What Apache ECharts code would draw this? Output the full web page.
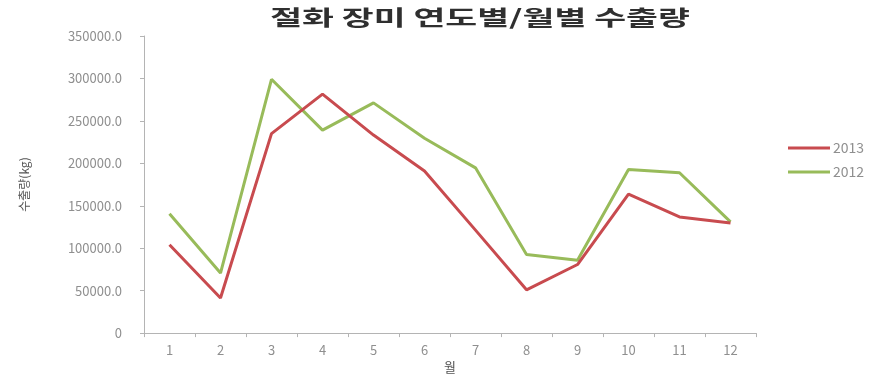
<!DOCTYPE html>
<html>
<head>
<meta charset="utf-8">
<script src="https://cdn.jsdelivr.net/npm/echarts@6/dist/echarts.min.js"></script>
<style>
  html, body { margin: 0; padding: 0; background: #ffffff; }
  #chart { width: 887px; height: 379px; }
</style>
</head>
<body>
<div id="chart"></div>
<script>
// Monthly export volume of cut roses, by year (kg)
const chartTitle = '절화 장미 연도별/월별 수출량';
const months = ['1', '2', '3', '4', '5', '6', '7', '8', '9', '10', '11', '12'];
const seriesNames = ['2013', '2012'];
const exports2013 = [104000, 41400, 235000, 281600, 233300, 190900, 121300, 51000, 80800, 163800, 136800, 129800];
const exports2012 = [140600, 70700, 299000, 239100, 271200, 229500, 194700, 92700, 85800, 192700, 188900, 131000];
const yTicks = { min: 0, max: 350000, step: 50000 };

const chart = echarts.init(document.getElementById('chart'), null, { renderer: 'canvas' });

const axisGrey = '#b4b4b4';
const labelGrey = '#8f8f8f';
const font = '"Noto Sans CJK KR", "Liberation Sans", sans-serif';

chart.setOption({
  backgroundColor: '#ffffff',
  animation: false,
  // wide, horizontally stretched heading
  graphic: [{
    type: 'text',
    x: 480,
    y: 7,
    scaleX: 1.65,
    style: {
      text: chartTitle,
      textAlign: 'center',
      textVerticalAlign: 'top',
      font: 'bold 21px ' + font,
      fill: '#2f2f2f'
    }
  }],
  legend: {
    orient: 'vertical',
    left: 783,
    top: 136,
    itemWidth: 42,
    itemHeight: 3,
    itemGap: 10,
    icon: 'rect',
    data: seriesNames,
    textStyle: { fontFamily: font, fontSize: 14, color: labelGrey, padding: [0, 0, 0, -2] }
  },
  grid: { left: 144, right: 131, top: 36, bottom: 41, containLabel: false },
  xAxis: {
    type: 'category',
    data: months,
    boundaryGap: true,
    name: '월',
    nameLocation: 'middle',
    nameGap: 26,
    nameTextStyle: { fontFamily: font, fontSize: 13, color: '#555' },
    axisLine: { lineStyle: { color: axisGrey, width: 1 } },
    axisTick: { show: true, alignWithLabel: false, length: 4, lineStyle: { color: axisGrey } },
    axisLabel: { fontFamily: font, fontSize: 13, color: labelGrey, margin: 10 },
    splitLine: { show: false }
  },
  yAxis: {
    type: 'value',
    min: yTicks.min,
    max: yTicks.max,
    interval: yTicks.step,
    name: '수출량(kg)',
    nameLocation: 'middle',
    nameRotate: 90,
    nameGap: 114,
    nameTextStyle: { fontFamily: font, fontSize: 12, color: '#555' },
    axisLine: { show: true, lineStyle: { color: axisGrey, width: 1 } },
    axisTick: { show: true, length: 4, lineStyle: { color: axisGrey } },
    axisLabel: {
      fontFamily: font, fontSize: 13, color: labelGrey, margin: 22,
      formatter: v => (v === 0 ? '0' : v.toFixed(1))
    },
    splitLine: { show: false }
  },
  series: [
    {
      name: seriesNames[0],
      type: 'line',
      data: exports2013,
      symbol: 'none',
      lineStyle: { color: '#c84b4f', width: 3 },
      itemStyle: { color: '#c84b4f' },
      z: 3
    },
    {
      name: seriesNames[1],
      type: 'line',
      data: exports2012,
      symbol: 'none',
      lineStyle: { color: '#98bb5a', width: 3 },
      itemStyle: { color: '#98bb5a' },
      z: 2
    }
  ]
});
</script>
</body>
</html>
